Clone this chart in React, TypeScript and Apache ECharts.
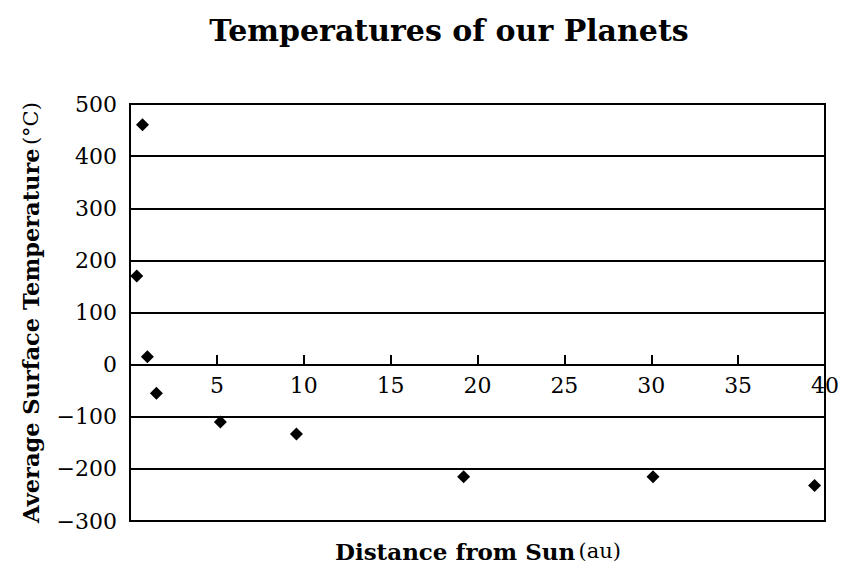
import React, { useEffect, useRef } from "react";
import * as echarts from "echarts";

const planets = ["Mercury", "Venus", "Earth", "Mars", "Jupiter", "Saturn", "Uranus", "Neptune", "Pluto"];
const distanceAu = [0.39, 0.72, 1.0, 1.52, 5.2, 9.58, 19.2, 30.1, 39.4];
const temperatureC = [170, 460, 15, -55, -110, -133, -215, -215, -232];

const SERIF = "'DejaVu Serif', 'Liberation Serif', serif";

export default function App() {
  const ref = useRef<HTMLDivElement>(null);
  useEffect(() => {
    if (!ref.current) return;
    const chart = echarts.init(ref.current, undefined, { renderer: "svg" });
    chart.setOption({
      animation: false,
      backgroundColor: "#fff",
      title: [
        {
          text: "Temperatures of our Planets",
          left: 449,
          top: 15,
          textAlign: "center",
          padding: 0,
          textStyle: { fontFamily: SERIF, fontWeight: "bold", fontSize: 30, color: "#000" },
        },
      ],
      graphic: [
        {
          type: "text",
          x: 478,
          y: 551,
          style: {
            text: "{b|Distance from Sun} {n|(au)}",
            align: "center",
            verticalAlign: "middle",
            rich: {
              b: { fontFamily: SERIF, fontWeight: "bold", fontSize: 23, fill: "#000" },
              n: { fontFamily: SERIF, fontSize: 21, fill: "#000" },
            },
          },
        },
      ],
      grid: {
        left: 130,
        right: 18,
        top: 104,
        bottom: 46,
        show: true,
        borderColor: "#000",
        borderWidth: 2,
        backgroundColor: "transparent",
      },
      xAxis: {
        type: "value",
        min: 0,
        max: 40,
        interval: 5,
        position: "bottom",
        offset: -156,
        axisLine: { onZero: false, lineStyle: { color: "#000", width: 2 } },
        axisTick: { show: true, inside: true, length: 10, lineStyle: { color: "#000", width: 2 } },
        axisLabel: {
          showMinLabel: false,
          margin: 9,
          fontFamily: SERIF,
          fontSize: 22,
          color: "#000",
        },
        splitLine: { show: false },
      },
      yAxis: {
        type: "value",
        min: -300,
        max: 500,
        interval: 100,
        name: "{b|Average Surface Temperature} {n|(°C)}",
        nameLocation: "middle",
        nameRotate: 90,
        nameGap: 88,
        nameTextStyle: {
          rich: {
            b: { fontFamily: SERIF, fontWeight: "bold", fontSize: 22.5, color: "#000" },
            n: { fontFamily: SERIF, fontSize: 21, color: "#000" },
          },
        },
        axisLine: { show: true, lineStyle: { color: "#000", width: 2 } },
        axisTick: { show: false },
        axisLabel: {
          margin: 13,
          fontFamily: SERIF,
          fontSize: 22,
          color: "#000",
          formatter: (v: number) => String(v).replace("-", "\u2212"),
        },
        splitLine: { show: true, lineStyle: { color: "#000", width: 2 } },
      },
      series: [
        {
          type: "scatter",
          name: "Planets",
          symbol: "diamond",
          symbolSize: 13,
          itemStyle: { color: "#000", opacity: 1 },
          data: distanceAu.map((d, i) => ({ value: [d, temperatureC[i]], name: planets[i] })),
        },
      ],
    });
    return () => chart.dispose();
  }, []);
  return <div ref={ref} style={{ width: 843, height: 567, position: "absolute", left: 0, top: 0 }} />;
}
